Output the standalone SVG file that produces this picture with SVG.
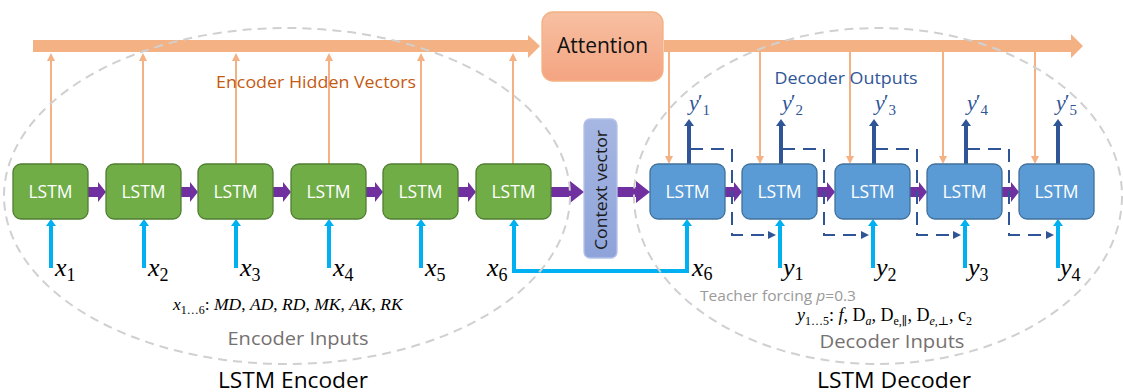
<svg xmlns="http://www.w3.org/2000/svg" width="1123" height="392" viewBox="0 0 1123 392">
<style>
.enc{fill:#70AD47;stroke:#507E32;stroke-width:1.3}
.dec{fill:#5B9BD5;stroke:#41719C;stroke-width:1.3}
.lbl{font-family:"Open Sans","Liberation Sans",sans-serif;fill:#fff;font-size:17.5px;text-anchor:middle}
.sans{font-family:"Open Sans","Liberation Sans",sans-serif}
.math{font-family:"Liberation Serif","DejaVu Serif",serif}
.it{font-style:italic}
.purple{fill:#7030A0}
.orl{stroke:#F4B183;stroke-width:2;fill:none}
.cy{stroke:#00B0F0;stroke-width:4;fill:none}
.db{stroke:#2F5597;stroke-width:4;fill:none}
.dash{stroke:#2F5597;stroke-width:2;fill:none;stroke-dasharray:13 8}
.ell{fill:none;stroke:#D0D0D0;stroke-width:2;stroke-dasharray:9 6}
</style>
<defs>
<linearGradient id="gAtt" x1="0" y1="0" x2="0" y2="1"><stop offset="0" stop-color="#F7C0A2"/><stop offset="1" stop-color="#F4A481"/></linearGradient>
<linearGradient id="gCtx" x1="0" y1="0" x2="0" y2="1"><stop offset="0" stop-color="#A7B7E3"/><stop offset="1" stop-color="#8EA3D9"/></linearGradient>
<marker id="mOr" markerUnits="userSpaceOnUse" markerWidth="8" markerHeight="8" refX="1" refY="4" orient="auto"><path d="M0,0 L8,4 L0,8 z" fill="#F4B183"/></marker>
<marker id="mCy" markerUnits="userSpaceOnUse" markerWidth="7" markerHeight="10" refX="1" refY="5" orient="auto-start-reverse"><path d="M0,0 L7,5 L0,10 z" fill="#00B0F0"/></marker>
<marker id="mDb" markerUnits="userSpaceOnUse" markerWidth="7" markerHeight="10" refX="1" refY="5" orient="auto"><path d="M0,0 L7,5 L0,10 z" fill="#2F5597"/></marker>
<marker id="mDs" markerUnits="userSpaceOnUse" markerWidth="8" markerHeight="8" refX="1" refY="4" orient="auto"><path d="M0,0 L8,4 L0,8 z" fill="#2F5597"/></marker>
</defs>

<g id="connectors">
  <polygon fill="#F4B183" points="33,40 528,40 528,35 540,46 528,58 528,52 33,52"/>
  <polygon fill="#F4B183" points="664,40 1071,40 1071,34 1083,46 1071,58 1071,52 664,52"/>
  <line class="orl" x1="51" y1="164" x2="51" y2="60" marker-end="url(#mOr)"/>
  <line class="orl" x1="143" y1="164" x2="143" y2="60" marker-end="url(#mOr)"/>
  <line class="orl" x1="236" y1="164" x2="236" y2="60" marker-end="url(#mOr)"/>
  <line class="orl" x1="329" y1="164" x2="329" y2="60" marker-end="url(#mOr)"/>
  <line class="orl" x1="421" y1="164" x2="421" y2="60" marker-end="url(#mOr)"/>
  <line class="orl" x1="513" y1="164" x2="513" y2="60" marker-end="url(#mOr)"/>
  <line class="orl" x1="669" y1="52" x2="669" y2="157" marker-end="url(#mOr)"/>
  <line class="orl" x1="760" y1="52" x2="760" y2="157" marker-end="url(#mOr)"/>
  <line class="orl" x1="850" y1="52" x2="850" y2="157" marker-end="url(#mOr)"/>
  <line class="orl" x1="943" y1="52" x2="943" y2="157" marker-end="url(#mOr)"/>
  <line class="orl" x1="1035" y1="52" x2="1035" y2="157" marker-end="url(#mOr)"/>
  <polygon class="purple" points="88,187 98,187 98,182 106,192 98,202 98,197 88,197"/>
  <polygon class="purple" points="181,187 190,187 190,182 198,192 190,202 190,197 181,197"/>
  <polygon class="purple" points="273,187 283,187 283,182 291,192 283,202 283,197 273,197"/>
  <polygon class="purple" points="366,187 375,187 375,182 383,192 375,202 375,197 366,197"/>
  <polygon class="purple" points="458,187 468,187 468,182 476,192 468,202 468,197 458,197"/>
  <polygon class="purple" points="551,187 570,187 570,181 584,192 570,203 570,197 551,197"/>
  <polygon class="purple" points="617,187 636,187 636,181 650,192 636,203 636,197 617,197"/>
  <polygon class="purple" points="725,187 734,187 734,182 742,192 734,202 734,197 725,197"/>
  <polygon class="purple" points="817,187 827,187 827,182 835,192 827,202 827,197 817,197"/>
  <polygon class="purple" points="910,187 919,187 919,182 927,192 919,202 919,197 910,197"/>
  <polygon class="purple" points="1002,187 1011,187 1011,182 1019,192 1011,202 1011,197 1002,197"/>
  <line class="cy" x1="51" y1="268" x2="51" y2="225" marker-end="url(#mCy)"/>
  <line class="cy" x1="144" y1="268" x2="144" y2="225" marker-end="url(#mCy)"/>
  <line class="cy" x1="236" y1="268" x2="236" y2="225" marker-end="url(#mCy)"/>
  <line class="cy" x1="329" y1="268" x2="329" y2="225" marker-end="url(#mCy)"/>
  <line class="cy" x1="421" y1="268" x2="421" y2="225" marker-end="url(#mCy)"/>
  <path class="cy" d="M514,225 V271 H687 V225" stroke-width="5" marker-start="url(#mCy)" marker-end="url(#mCy)"/>
  <line class="cy" x1="780" y1="268" x2="780" y2="225" marker-end="url(#mCy)"/>
  <line class="cy" x1="873" y1="268" x2="873" y2="225" marker-end="url(#mCy)"/>
  <line class="cy" x1="965" y1="268" x2="965" y2="225" marker-end="url(#mCy)"/>
  <line class="cy" x1="1058" y1="268" x2="1058" y2="225" marker-end="url(#mCy)"/>
  <line class="db" x1="689" y1="164" x2="689" y2="125" marker-end="url(#mDb)"/>
  <line class="db" x1="781" y1="164" x2="781" y2="125" marker-end="url(#mDb)"/>
  <line class="db" x1="874" y1="164" x2="874" y2="125" marker-end="url(#mDb)"/>
  <line class="db" x1="966" y1="164" x2="966" y2="125" marker-end="url(#mDb)"/>
  <line class="db" x1="1058" y1="164" x2="1058" y2="125" marker-end="url(#mDb)"/>
  <path class="dash" d="M690,149 H732 V235 H769" marker-end="url(#mDs)"/>
  <path class="dash" d="M782,149 H824 V235 H862" marker-end="url(#mDs)"/>
  <path class="dash" d="M875,149 H917 V235 H954" marker-end="url(#mDs)"/>
  <path class="dash" d="M967,149 H1009 V235 H1047" marker-end="url(#mDs)"/>
</g>

<g id="groups">
  <ellipse class="ell" cx="287" cy="196" rx="283" ry="168"/>
  <ellipse class="ell" cx="878" cy="196" rx="244" ry="168"/>
</g>

<g id="attention">
  <rect x="542" y="12" width="121" height="69" rx="11" fill="url(#gAtt)" stroke="#F4B183" stroke-width="1.3"/>
  <text x="602.5" y="53" class="sans" font-size="21" fill="#111" text-anchor="middle">Attention</text>
</g>
<g id="context">
  <rect x="584" y="119" width="33" height="139" rx="6" fill="url(#gCtx)" stroke="#B4C2E8" stroke-width="1.3"/>
  <text transform="translate(607,190) rotate(-90)" class="sans" font-size="17" fill="#1a1a1a" text-anchor="middle" textLength="120" lengthAdjust="spacingAndGlyphs">Context vector</text>
</g>

<g id="enc1"><rect class="enc" x="13" y="164" width="75" height="55" rx="8"/><text class="lbl" x="50.5" y="198">LSTM</text></g>
<g id="enc2"><rect class="enc" x="106" y="164" width="75" height="55" rx="8"/><text class="lbl" x="143.5" y="198">LSTM</text></g>
<g id="enc3"><rect class="enc" x="198" y="164" width="75" height="55" rx="8"/><text class="lbl" x="235.5" y="198">LSTM</text></g>
<g id="enc4"><rect class="enc" x="291" y="164" width="75" height="55" rx="8"/><text class="lbl" x="328.5" y="198">LSTM</text></g>
<g id="enc5"><rect class="enc" x="383" y="164" width="75" height="55" rx="8"/><text class="lbl" x="420.5" y="198">LSTM</text></g>
<g id="enc6"><rect class="enc" x="476" y="164" width="75" height="55" rx="8"/><text class="lbl" x="513.5" y="198">LSTM</text></g>

<g id="dec1"><rect class="dec" x="650" y="164" width="75" height="55" rx="8"/><text class="lbl" x="687.5" y="198">LSTM</text></g>
<g id="dec2"><rect class="dec" x="742" y="164" width="75" height="55" rx="8"/><text class="lbl" x="779.5" y="198">LSTM</text></g>
<g id="dec3"><rect class="dec" x="835" y="164" width="75" height="55" rx="8"/><text class="lbl" x="872.5" y="198">LSTM</text></g>
<g id="dec4"><rect class="dec" x="927" y="164" width="75" height="55" rx="8"/><text class="lbl" x="964.5" y="198">LSTM</text></g>
<g id="dec5"><rect class="dec" x="1019" y="164" width="75" height="55" rx="8"/><text class="lbl" x="1056.5" y="198">LSTM</text></g>

<g id="labels">
  <text x="316" y="88" class="sans" font-size="17" fill="#C55A11" text-anchor="middle" textLength="200" lengthAdjust="spacingAndGlyphs">Encoder Hidden Vectors</text>
  <text x="846" y="84" class="sans" font-size="17" fill="#2F5597" text-anchor="middle" textLength="143" lengthAdjust="spacingAndGlyphs">Decoder Outputs</text>

  <g class="math" font-size="26" fill="#000">
    <text x="55" y="276"><tspan class="it">x</tspan><tspan font-size="18" dy="5">1</tspan></text>
    <text x="148" y="276"><tspan class="it">x</tspan><tspan font-size="18" dy="5">2</tspan></text>
    <text x="240" y="276"><tspan class="it">x</tspan><tspan font-size="18" dy="5">3</tspan></text>
    <text x="333" y="276"><tspan class="it">x</tspan><tspan font-size="18" dy="5">4</tspan></text>
    <text x="425" y="276"><tspan class="it">x</tspan><tspan font-size="18" dy="5">5</tspan></text>
    <text x="487" y="276"><tspan class="it">x</tspan><tspan font-size="18" dy="5">6</tspan></text>
    <text x="692" y="276"><tspan class="it">x</tspan><tspan font-size="18" dy="4">6</tspan></text>
    <text x="783" y="276"><tspan class="it">y</tspan><tspan font-size="18" dy="4">1</tspan></text>
    <text x="876" y="276"><tspan class="it">y</tspan><tspan font-size="18" dy="5">2</tspan></text>
    <text x="968" y="276"><tspan class="it">y</tspan><tspan font-size="18" dy="5">3</tspan></text>
    <text x="1060" y="276"><tspan class="it">y</tspan><tspan font-size="18" dy="5">4</tspan></text>
  </g>
  <g class="math" font-size="22" fill="#2F5597">
    <text x="689" y="110"><tspan class="it">y</tspan><tspan dx="-1" dy="-1">′</tspan><tspan font-size="15" dy="6">1</tspan></text>
    <text x="782" y="110"><tspan class="it">y</tspan><tspan dx="-1" dy="-1">′</tspan><tspan font-size="15" dy="6">2</tspan></text>
    <text x="875" y="110"><tspan class="it">y</tspan><tspan dx="-1" dy="-1">′</tspan><tspan font-size="15" dy="6">3</tspan></text>
    <text x="967" y="110"><tspan class="it">y</tspan><tspan dx="-1" dy="-1">′</tspan><tspan font-size="15" dy="6">4</tspan></text>
    <text x="1056" y="110"><tspan class="it">y</tspan><tspan dx="-1" dy="-1">′</tspan><tspan font-size="15" dy="6">5</tspan></text>
  </g>

  <text x="173" y="310" class="math" font-size="17.5" fill="#000"><tspan class="it">x</tspan><tspan font-size="12" dy="4">1…6</tspan><tspan dy="-4">: </tspan><tspan class="it">MD</tspan>, <tspan class="it">AD</tspan>, <tspan class="it">RD</tspan>, <tspan class="it">MK</tspan>, <tspan class="it">AK</tspan>, <tspan class="it">RK</tspan></text>
  <text x="298" y="345" class="sans" font-size="19" fill="#767171" text-anchor="middle" textLength="141" lengthAdjust="spacingAndGlyphs">Encoder Inputs</text>
  <text x="293" y="388" class="sans" font-size="22" fill="#000" text-anchor="middle" textLength="150" lengthAdjust="spacingAndGlyphs">LSTM Encoder</text>

  <text x="700" y="301" class="sans" font-size="14.5" fill="#9A9A9A" textLength="156" lengthAdjust="spacingAndGlyphs">Teacher forcing <tspan class="it">p</tspan>=0.3</text>
  <text x="797" y="321" class="math" font-size="18" fill="#000"><tspan class="it">y</tspan><tspan font-size="12" dy="4">1…5</tspan><tspan dy="-4">: </tspan><tspan class="it">f</tspan>, D<tspan font-size="12" dy="4" class="it">a</tspan><tspan dy="-4">, D</tspan><tspan font-size="12" dy="4">e,∥</tspan><tspan dy="-4">, D</tspan><tspan font-size="12" dy="4"><tspan class="it">e</tspan>,⊥</tspan><tspan dy="-4">, c</tspan><tspan font-size="12" dy="4">2</tspan></text>
  <text x="892" y="348" class="sans" font-size="19" fill="#767171" text-anchor="middle" textLength="145" lengthAdjust="spacingAndGlyphs">Decoder Inputs</text>
  <text x="894" y="388" class="sans" font-size="22" fill="#000" text-anchor="middle" textLength="154" lengthAdjust="spacingAndGlyphs">LSTM Decoder</text>
</g>
</svg>
